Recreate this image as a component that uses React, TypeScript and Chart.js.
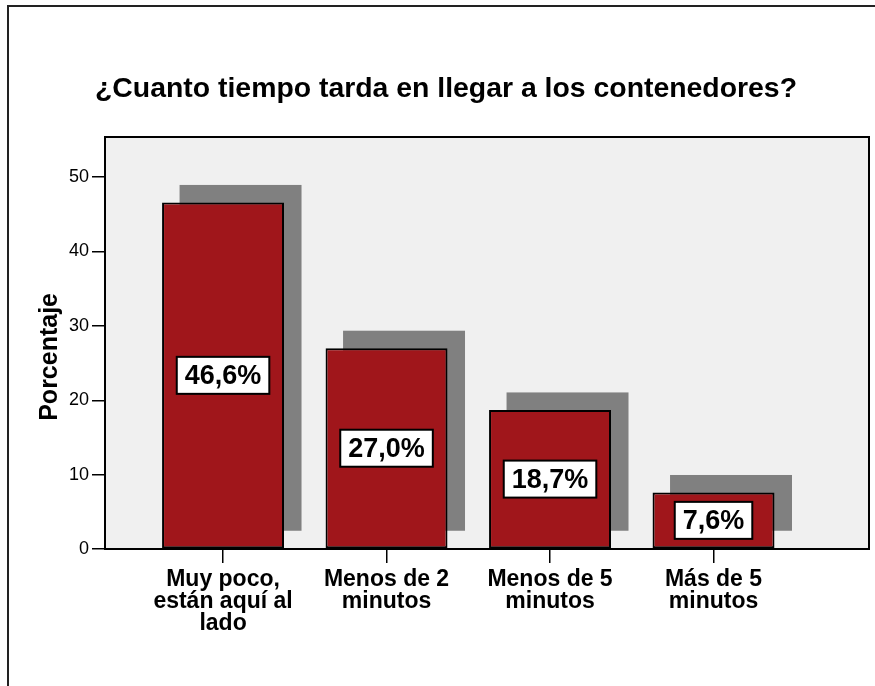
import React, { useEffect, useRef } from "react";
import { Chart, registerables } from "chart.js";

Chart.register(...registerables);

// ---- data ----
const chartTitle = "¿Cuanto tiempo tarda en llegar a los contenedores?";
const yAxisTitle = "Porcentaje";
const categories: string[][] = [
  ["Muy poco,", "están aquí al", "lado"],
  ["Menos de 2", "minutos"],
  ["Menos de 5", "minutos"],
  ["Más de 5", "minutos"],
];
const percentages: number[] = [46.6, 27.0, 18.7, 7.6];
const yTicks: number[] = [0, 10, 20, 30, 40, 50];
const yMax = 55.4;
const xMin = 0.278;
const xMax = 4.951;

const FONT = 'Arial, "Liberation Sans", Helvetica, sans-serif';
const BAR_COLOR = "#a0161b";
const SHADOW_COLOR = "#808080";
const PLOT_BG = "#f0f0f0";
const SHADOW_DX = 17.5;
const SHADOW_DY = -17.5;

const fmt = (v: number) => v.toFixed(1).replace(".", ",") + "%";

const decorPlugin = {
  id: "decor",
  beforeDraw(chart: any) {
    const { ctx, chartArea: a, width, height } = chart;
    ctx.save();
    ctx.fillStyle = "#ffffff";
    ctx.fillRect(0, 0, width, height);
    // outer frame
    ctx.strokeStyle = "#222";
    ctx.lineWidth = 2;
    ctx.strokeRect(8, 6, width + 40, height + 40);
    // title
    ctx.fillStyle = "#000";
    ctx.font = `bold 28.4px ${FONT}`;
    ctx.textAlign = "center";
    ctx.textBaseline = "alphabetic";
    ctx.fillText(chartTitle, 446, 97);
    // plot background
    ctx.fillStyle = PLOT_BG;
    ctx.fillRect(a.left, a.top, a.right - a.left, a.bottom - a.top);
    ctx.restore();
  },
  beforeDatasetsDraw(chart: any) {
    const { ctx } = chart;
    const meta = chart.getDatasetMeta(0);
    ctx.save();
    ctx.fillStyle = SHADOW_COLOR;
    meta.data.forEach((bar: any) => {
      const { x, y, base, width } = bar.getProps(["x", "y", "base", "width"], true);
      ctx.fillRect(x - width / 2 + SHADOW_DX, y + SHADOW_DY, width, base - y);
    });
    ctx.restore();
  },
  afterDatasetsDraw(chart: any) {
    const { ctx, chartArea: a } = chart;
    const meta = chart.getDatasetMeta(0);
    ctx.save();
    // plot frame
    ctx.strokeStyle = "#000";
    ctx.lineWidth = 2;
    ctx.strokeRect(a.left, a.top, a.right - a.left, a.bottom - a.top);
    // value labels
    ctx.font = `bold 27px ${FONT}`;
    ctx.textAlign = "center";
    ctx.textBaseline = "middle";
    meta.data.forEach((bar: any, i: number) => {
      const { x, y, base } = bar.getProps(["x", "y", "base"], true);
      const text = fmt(percentages[i]);
      const tw = ctx.measureText(text).width;
      const bw = tw + 16;
      const bh = 37;
      const cy = (y + base) / 2;
      ctx.fillStyle = "#fff";
      ctx.fillRect(x - bw / 2, cy - bh / 2, bw, bh);
      ctx.strokeStyle = "#000";
      ctx.lineWidth = 2;
      ctx.strokeRect(x - bw / 2, cy - bh / 2, bw, bh);
      ctx.fillStyle = "#000";
      ctx.fillText(text, x, cy + 1);
    });
    ctx.restore();
  },
};

export default function App() {
  const ref = useRef<HTMLCanvasElement>(null);

  useEffect(() => {
    if (!ref.current) return;
    const chart = new Chart(ref.current, {
      type: "bar",
      data: {
        datasets: [
          {
            data: percentages.map((v, i) => ({ x: i + 1, y: v })) as any,
            backgroundColor: BAR_COLOR,
            borderColor: "#000",
            borderWidth: 2,
            borderSkipped: false,
            barPercentage: 0.746,
            categoryPercentage: 1,
          },
        ],
      },
      options: {
        responsive: false,
        animation: false,
        devicePixelRatio: 1,
        layout: { padding: { top: 137, right: 6, left: 0, bottom: 0 } },
        plugins: {
          legend: { display: false },
          tooltip: { enabled: false },
          title: { display: false },
        },
        scales: {
          x: {
            type: "linear",
            min: xMin,
            max: xMax,
            offset: false,
            afterBuildTicks: (s: any) => {
              s.ticks = categories.map((_, i) => ({ value: i + 1 }));
            },
            afterFit: (s: any) => {
              s.height = 137;
            },
            grid: {
              offset: false,
              drawOnChartArea: false,
              drawTicks: true,
              tickLength: 14,
              color: "#000",
              lineWidth: 1.5,
            },
            border: { display: false },
            ticks: {
              autoSkip: false,
              maxRotation: 0,
              minRotation: 0,
              padding: 6,
              color: "#000",
              font: { family: FONT, size: 23, weight: "bold", lineHeight: "22px" },
              callback: (v: any) => categories[Number(v) - 1] ?? "",
            },
          },
          y: {
            type: "linear",
            min: 0,
            max: yMax,
            afterBuildTicks: (s: any) => {
              s.ticks = yTicks.map((v) => ({ value: v }));
            },
            afterFit: (s: any) => {
              s.width = 105;
            },
            grid: {
              drawOnChartArea: false,
              drawTicks: true,
              tickLength: 13,
              color: "#000",
              lineWidth: 1.5,
            },
            border: { display: false },
            ticks: {
              padding: 3,
              color: "#000",
              font: { family: FONT, size: 18 },
            },
            title: {
              display: true,
              text: yAxisTitle + "    ",
              color: "#000",
              font: { family: FONT, size: 25, weight: "bold" },
              padding: { top: 35, bottom: 0 },
            },
          },
        },
      } as any,
      plugins: [decorPlugin],
    });
    return () => chart.destroy();
  }, []);

  return (
    <div style={{ position: "absolute", left: 0, top: 0, width: 875, height: 686 }}>
      <canvas ref={ref} width={875} height={686} style={{ display: "block" }} />
    </div>
  );
}
